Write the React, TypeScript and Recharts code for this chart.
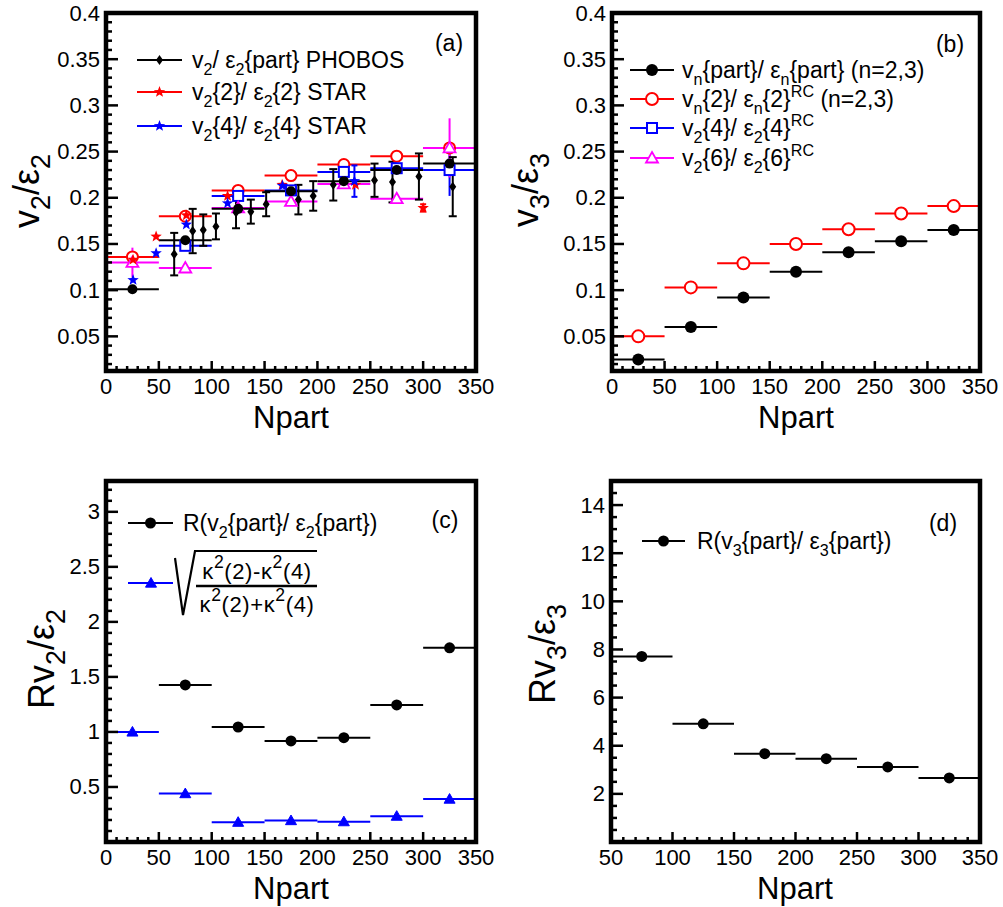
import React from "react";
import { ScatterChart, Scatter, XAxis, YAxis, ErrorBar } from "recharts";

const FONT = '"Liberation Sans", Arial, Helvetica, sans-serif';
const RED = "#ff0000";
const BLUE = "#0000ff";
const MAGENTA = "#ff00ff";
const BLACK = "#000000";

// Npart bins (centre, half width)
const binCentres = [25, 75, 125, 175, 225, 275, 325];
const binHalf = 25;

// (a) v2/eps2
const aPart = [0.101, 0.154, 0.188, 0.207, 0.218, 0.23, 0.237];
const aTwo = [0.136, 0.18, 0.208, 0.224, 0.236, 0.245, 0.254];
const aFourBins = [75, 125, 175, 225, 275, 325];
const aFour = [0.148, 0.202, 0.208, 0.228, 0.232, 0.23];
const aFourErr = [0, 0, 0, 0, 0, 0.028];
const aSix = [0.13, 0.124, 0.189, 0.196, 0.215, 0.199, 0.254];
const aSixErr = [0.016, 0, 0, 0, 0, 0, 0.032];
const phobosN = [64.5, 82, 92, 104, 123, 137, 151.5, 182, 196, 215, 254, 271, 296, 328];
const phobosV = [0.139, 0.164, 0.165, 0.169, 0.184, 0.185, 0.193, 0.198, 0.202, 0.214, 0.219, 0.217, 0.223, 0.212];
const phobosErr = [0.023, 0.024, 0.017, 0.014, 0.017, 0.013, 0.013, 0.016, 0.016, 0.017, 0.018, 0.022, 0.025, 0.032];
const star2N = [25.6, 47.4, 76, 115, 166.6, 236, 300];
const star2V = [0.133, 0.158, 0.181, 0.202, 0.214, 0.214, 0.189];
const star2Err = [0, 0, 0, 0, 0, 0, 0.004];
const star4N = [25.6, 47.4, 76, 115, 167, 235];
const star4V = [0.111, 0.14, 0.171, 0.194, 0.213, 0.218];
const star4Err = [0, 0, 0, 0, 0, 0.017];

// (b) v3/eps3
const bPart = [0.025, 0.06, 0.092, 0.12, 0.141, 0.153, 0.165];
const bTwo = [0.05, 0.103, 0.129, 0.15, 0.166, 0.183, 0.191];

// (c) R v2/eps2
const cPartBins = [75, 125, 175, 225, 275, 325];
const cPart = [1.427, 1.045, 0.918, 0.948, 1.245, 1.764];
const cKappa = [1.0, 0.44, 0.18, 0.195, 0.185, 0.235, 0.39];

// (d) R v3/eps3
const dBins = [75, 125, 175, 225, 275, 325];
const dPart = [7.71, 4.91, 3.67, 3.46, 3.12, 2.66];

const steps = (from: number, to: number, step: number) => {
  const out: number[] = [];
  for (let i = 0; from + i * step <= to + 1e-9; i++) out.push(Math.round((from + i * step) * 1e6) / 1e6);
  return out;
};

const toPoints = (xs: number[], ys: number[], errs?: number[], ex = 0) =>
  xs.map((x, i) => ({ x, y: ys[i], ex, ey: errs ? errs[i] : 0 }));

// markers
const dot = (r: number, color: string) => (p: any) => <circle cx={p.cx} cy={p.cy} r={r} fill={color} />;
const ring = (r: number, color: string) => (p: any) => (
  <circle cx={p.cx} cy={p.cy} r={r} fill="#fff" stroke={color} strokeWidth={2} />
);
const square = (h: number, color: string) => (p: any) => (
  <rect x={p.cx - h} y={p.cy - h} width={2 * h} height={2 * h} fill="#fff" stroke={color} strokeWidth={2} />
);
const triangle = (h: number, color: string, filled: boolean) => (p: any) => (
  <polygon
    points={`${p.cx},${p.cy - h} ${p.cx + h},${p.cy + h * 0.75} ${p.cx - h},${p.cy + h * 0.75}`}
    fill={filled ? color : "#fff"}
    stroke={color}
    strokeWidth={filled ? 1 : 1.8}
  />
);
const diamond = (color: string) => (p: any) => (
  <polygon points={`${p.cx},${p.cy - 5} ${p.cx + 3.5},${p.cy} ${p.cx},${p.cy + 5} ${p.cx - 3.5},${p.cy}`} fill={color} />
);
const star = (R: number, color: string) => (p: any) => {
  const pts = Array.from({ length: 10 }, (_, i) => {
    const a = -Math.PI / 2 + (i * Math.PI) / 5;
    const rad = i % 2 === 0 ? R : R * 0.42;
    return `${p.cx + rad * Math.cos(a)},${p.cy + rad * Math.sin(a)}`;
  }).join(" ");
  return <polygon points={pts} fill={color} />;
};

const fmt = (v: number) => String(Number(v.toFixed(4)));
const isMult = (v: number, m: number) => Math.abs(v / m - Math.round(v / m)) < 1e-6;

const xTick = (major: number) => (props: any) => {
  const { x, y, payload } = props;
  const v = payload.value;
  const mj = isMult(v, major);
  return (
    <g>
      <line x1={x} x2={x} y1={y} y2={y - (mj ? 10 : 5)} stroke="#000" strokeWidth={2.5} />
      {mj ? (
        <text x={x} y={y + 15} textAnchor="middle" dominantBaseline="central" fontSize={22} fontFamily={FONT} fill="#000">
          {fmt(v)}
        </text>
      ) : null}
    </g>
  );
};

const yTick = (major: number) => (props: any) => {
  const { x, y, payload } = props;
  const v = payload.value;
  const mj = isMult(v, major);
  return (
    <g>
      <line x1={x} x2={x + (mj ? 12 : 6)} y1={y} y2={y} stroke="#000" strokeWidth={2.5} />
      {mj && v !== 0 ? (
        <text x={x - 6} y={y} textAnchor="end" dominantBaseline="central" fontSize={22} fontFamily={FONT} fill="#000">
          {fmt(v)}
        </text>
      ) : null}
    </g>
  );
};

type Box = { x: number; y: number; w: number; h: number };
type Plot = { l: number; t: number; r: number; b: number };

const plotA: Plot = { l: 106, t: 13, r: 476, b: 371 };
const plotB: Plot = { l: 612, t: 13, r: 980, b: 371 };
const plotC: Plot = { l: 106, t: 481, r: 476, b: 842 };
const plotD: Plot = { l: 611, t: 481, r: 980, b: 842 };

function Panel(props: {
  box: Box;
  plot: Plot;
  xDomain: [number, number];
  yDomain: [number, number];
  xTicks: number[];
  yTicks: number[];
  xMajor: number;
  yMajor: number;
  children: React.ReactNode;
}) {
  const { box, plot, xDomain, yDomain } = props;
  const yw = 60;
  const xh = 40;
  const margin = {
    top: plot.t - box.y,
    left: plot.l - box.x - yw,
    right: box.x + box.w - plot.r,
    bottom: box.y + box.h - plot.b - xh,
  };
  return (
    <div style={{ position: "absolute", left: box.x, top: box.y, width: box.w, height: box.h }}>
      <ScatterChart width={box.w} height={box.h} margin={margin}>
        <XAxis
          type="number"
          dataKey="x"
          domain={xDomain}
          ticks={props.xTicks}
          interval={0}
          allowDataOverflow
          tickSize={0}
          tickMargin={0}
          tickLine={false}
          axisLine={false}
          height={xh}
          tick={xTick(props.xMajor)}
        />
        <YAxis
          type="number"
          dataKey="y"
          domain={yDomain}
          ticks={props.yTicks}
          interval={0}
          allowDataOverflow
          tickSize={0}
          tickMargin={0}
          tickLine={false}
          axisLine={false}
          width={yw}
          tick={yTick(props.yMajor)}
        />
        {props.children}
      </ScatterChart>
    </div>
  );
}

function binSeries(key: string, data: any[], color: string, shape: any, yErr = false, capW = 0) {
  return (
    <Scatter key={key} data={data} shape={shape} isAnimationActive={false}>
      <ErrorBar dataKey="ex" direction="x" width={0} stroke={color} strokeWidth={2} isAnimationActive={false} />
      {yErr ? (
        <ErrorBar dataKey="ey" direction="y" width={capW} stroke={color} strokeWidth={2} isAnimationActive={false} />
      ) : null}
    </Scatter>
  );
}

type Seg = [string, ("d" | "u")?];
function Rich(p: {
  x: number;
  y: number;
  size: number;
  segs: Seg[];
  anchor?: "start" | "middle" | "end";
  rotate?: boolean;
  sub?: number;
  up?: number;
  spacing?: number;
}) {
  let shift = 0;
  const tf = p.rotate ? `translate(${p.x},${p.y}) rotate(-90)` : undefined;
  const sub = p.sub ?? 0.75;
  const up = p.up ?? 0.5;
  return (
    <text
      x={p.rotate ? 0 : p.x}
      y={p.rotate ? 0 : p.y}
      transform={tf}
      fontSize={p.size}
      fontFamily={FONT}
      textAnchor={p.anchor || "start"}
      letterSpacing={p.spacing ?? 0}
      fill="#000"
    >
      {p.segs.map(([t, k], i) => {
        const target = k === "d" ? p.size * 0.3 : k === "u" ? -p.size * up : 0;
        const dy = target - shift;
        shift = target;
        return (
          <tspan key={i} dy={dy} fontSize={k ? p.size * sub : p.size}>
            {t}
          </tspan>
        );
      })}
    </text>
  );
}

function LegendRow(p: { y: number; x1: number; x2: number; tx: number; color: string; marker: any; segs: Seg[] }) {
  const mx = (p.x1 + p.x2) / 2;
  return (
    <g>
      <line x1={p.x1} x2={p.x2} y1={p.y} y2={p.y} stroke={p.color} strokeWidth={2} />
      {p.marker({ cx: mx, cy: p.y })}
      <Rich x={p.tx} y={p.y + 8} size={23} sub={0.7} up={0.42} segs={p.segs} />
    </g>
  );
}

export default function App() {
  const xTicks = steps(0, 350, 10);
  const xTicksD = steps(50, 350, 10);
  return (
    <div style={{ position: "absolute", left: 0, top: 0, width: 1003, height: 907, background: "#fff", fontFamily: FONT }}>
      <Panel
        box={{ x: 0, y: 0, w: 500, h: 450 }}
        plot={plotA}
        xDomain={[0, 350]}
        yDomain={[0.0125, 0.4]}
        xTicks={xTicks}
        yTicks={steps(0.02, 0.4, 0.01)}
        xMajor={50}
        yMajor={0.05}
      >
        {binSeries("a2", toPoints(binCentres, aTwo, undefined, binHalf), RED, ring(5.5, RED))}
        {binSeries("a4", toPoints(aFourBins, aFour, aFourErr, binHalf), BLUE, square(5, BLUE), true)}
        {binSeries("a6", toPoints(binCentres, aSix, aSixErr, binHalf), MAGENTA, triangle(6, MAGENTA, false), true)}
        {binSeries("ap", toPoints(binCentres, aPart, undefined, binHalf), BLACK, dot(5, BLACK))}
        {binSeries("ph", toPoints(phobosN, phobosV, phobosErr), BLACK, diamond(BLACK), true, 4)}
        {binSeries("s2", toPoints(star2N, star2V, star2Err), RED, star(6, RED), true, 3)}
        {binSeries("s4", toPoints(star4N, star4V, star4Err), BLUE, star(6, BLUE), true, 3)}
      </Panel>

      <Panel
        box={{ x: 500, y: 0, w: 503, h: 450 }}
        plot={plotB}
        xDomain={[0, 350]}
        yDomain={[0.0125, 0.4]}
        xTicks={xTicks}
        yTicks={steps(0.02, 0.4, 0.01)}
        xMajor={50}
        yMajor={0.05}
      >
        {binSeries("b2", toPoints(binCentres, bTwo, undefined, binHalf), RED, ring(6, RED))}
        {binSeries("bp", toPoints(binCentres, bPart, undefined, binHalf), BLACK, dot(6, BLACK))}
      </Panel>

      <Panel
        box={{ x: 0, y: 450, w: 500, h: 457 }}
        plot={plotC}
        xDomain={[0, 350]}
        yDomain={[0, 3.28]}
        xTicks={xTicks}
        yTicks={steps(0.1, 3.2, 0.1)}
        xMajor={50}
        yMajor={0.5}
      >
        {binSeries("ck", toPoints(binCentres, cKappa, undefined, binHalf), BLUE, triangle(5.5, BLUE, true))}
        {binSeries("cp", toPoints(cPartBins, cPart, undefined, binHalf), BLACK, dot(5.5, BLACK))}
      </Panel>

      <Panel
        box={{ x: 500, y: 450, w: 503, h: 457 }}
        plot={plotD}
        xDomain={[50, 350]}
        yDomain={[0, 15]}
        xTicks={xTicksD}
        yTicks={steps(0.5, 14.5, 0.5)}
        xMajor={50}
        yMajor={2}
      >
        {binSeries("dp", toPoints(dBins, dPart, undefined, binHalf), BLACK, dot(5.5, BLACK))}
      </Panel>

      <svg width={1003} height={907} style={{ position: "absolute", left: 0, top: 0, pointerEvents: "none" }}>
        {/* frames */}
        {[plotA, plotB, plotC, plotD].map((p, i) => (
          <rect key={i} x={p.l} y={p.t} width={p.r - p.l} height={p.b - p.t} fill="none" stroke="#000" strokeWidth={4.5} />
        ))}

        {/* axis titles */}
        <Rich x={39} y={191} size={36} anchor="middle" rotate segs={[["v"], ["2", "d"], ["/ε"], ["2", "d"]]} />
        <Rich x={538} y={190} size={36} anchor="middle" rotate segs={[["v"], ["3", "d"], ["/ε"], ["3", "d"]]} />
        <Rich x={54} y={659} size={36} anchor="middle" rotate segs={[["Rv"], ["2", "d"], ["/ε"], ["2", "d"]]} />
        <Rich x={555} y={654} size={36} anchor="middle" rotate segs={[["Rv"], ["3", "d"], ["/ε"], ["3", "d"]]} />
        {[
          [291, 428],
          [796, 428],
          [291, 899],
          [795, 899],
        ].map(([x, y], i) => (
          <text key={i} x={x} y={y} fontSize={31} fontFamily={FONT} textAnchor="middle" fill="#000">
            Npart
          </text>
        ))}

        {/* panel labels */}
        <text x={449} y={51} fontSize={23} fontFamily={FONT} textAnchor="middle">(a)</text>
        <text x={950} y={52} fontSize={23} fontFamily={FONT} textAnchor="middle">(b)</text>
        <text x={445} y={528} fontSize={23} fontFamily={FONT} textAnchor="middle">(c)</text>
        <text x={943} y={531} fontSize={23} fontFamily={FONT} textAnchor="middle">(d)</text>

        {/* legend (a) */}
        <LegendRow y={60} x1={137} x2={182} tx={192} color={BLACK} marker={diamond(BLACK)}
          segs={[["v"], ["2", "d"], ["/ ε"], ["2", "d"], ["{part} PHOBOS"]]} />
        <LegendRow y={92} x1={137} x2={182} tx={192} color={RED} marker={star(6, RED)}
          segs={[["v"], ["2", "d"], ["{2}/ ε"], ["2", "d"], ["{2} STAR"]]} />
        <LegendRow y={126} x1={137} x2={182} tx={192} color={BLUE} marker={star(6, BLUE)}
          segs={[["v"], ["2", "d"], ["{4}/ ε"], ["2", "d"], ["{4} STAR"]]} />

        {/* legend (b) */}
        <LegendRow y={70} x1={630} x2={674} tx={682} color={BLACK} marker={dot(6, BLACK)}
          segs={[["v"], ["n", "d"], ["{part}/ ε"], ["n", "d"], ["{part} (n=2,3)"]]} />
        <LegendRow y={99} x1={630} x2={674} tx={682} color={RED} marker={ring(6, RED)}
          segs={[["v"], ["n", "d"], ["{2}/ ε"], ["n", "d"], ["{2}"], ["RC", "u"], [" (n=2,3)"]]} />
        <LegendRow y={128} x1={630} x2={674} tx={682} color={BLUE} marker={square(5, BLUE)}
          segs={[["v"], ["2", "d"], ["{4}/ ε"], ["2", "d"], ["{4}"], ["RC", "u"]]} />
        <LegendRow y={158} x1={630} x2={674} tx={682} color={MAGENTA} marker={triangle(6, MAGENTA, false)}
          segs={[["v"], ["2", "d"], ["{6}/ ε"], ["2", "d"], ["{6}"], ["RC", "u"]]} />

        {/* legend (c) */}
        <LegendRow y={523} x1={128} x2={173} tx={183} color={BLACK} marker={dot(5.5, BLACK)}
          segs={[["R(v"], ["2", "d"], ["{part}/ ε"], ["2", "d"], ["{part})"]]} />
        <line x1={128} x2={173} y1={583} y2={583} stroke={BLUE} strokeWidth={2} />
        {triangle(5.5, BLUE, true)({ cx: 151, cy: 583 })}
        <path d="M175,558 L183,615 L195,551 L317,551" fill="none" stroke="#000" strokeWidth={2.2} />
        <Rich x={257} y={579} size={22} sub={0.8} spacing={0.6} anchor="middle"
          segs={[["κ"], ["2", "u"], ["(2)-κ"], ["2", "u"], ["(4)"]]} />
        <line x1={196} x2={317} y1={586} y2={586} stroke="#000" strokeWidth={2.5} />
        <Rich x={257} y={612} size={22} sub={0.8} spacing={0.6} anchor="middle"
          segs={[["κ"], ["2", "u"], ["(2)+κ"], ["2", "u"], ["(4)"]]} />

        {/* legend (d) */}
        <LegendRow y={541} x1={642} x2={685} tx={697} color={BLACK} marker={dot(5.5, BLACK)}
          segs={[["R(v"], ["3", "d"], ["{part}/ ε"], ["3", "d"], ["{part})"]]} />
      </svg>
    </div>
  );
}
